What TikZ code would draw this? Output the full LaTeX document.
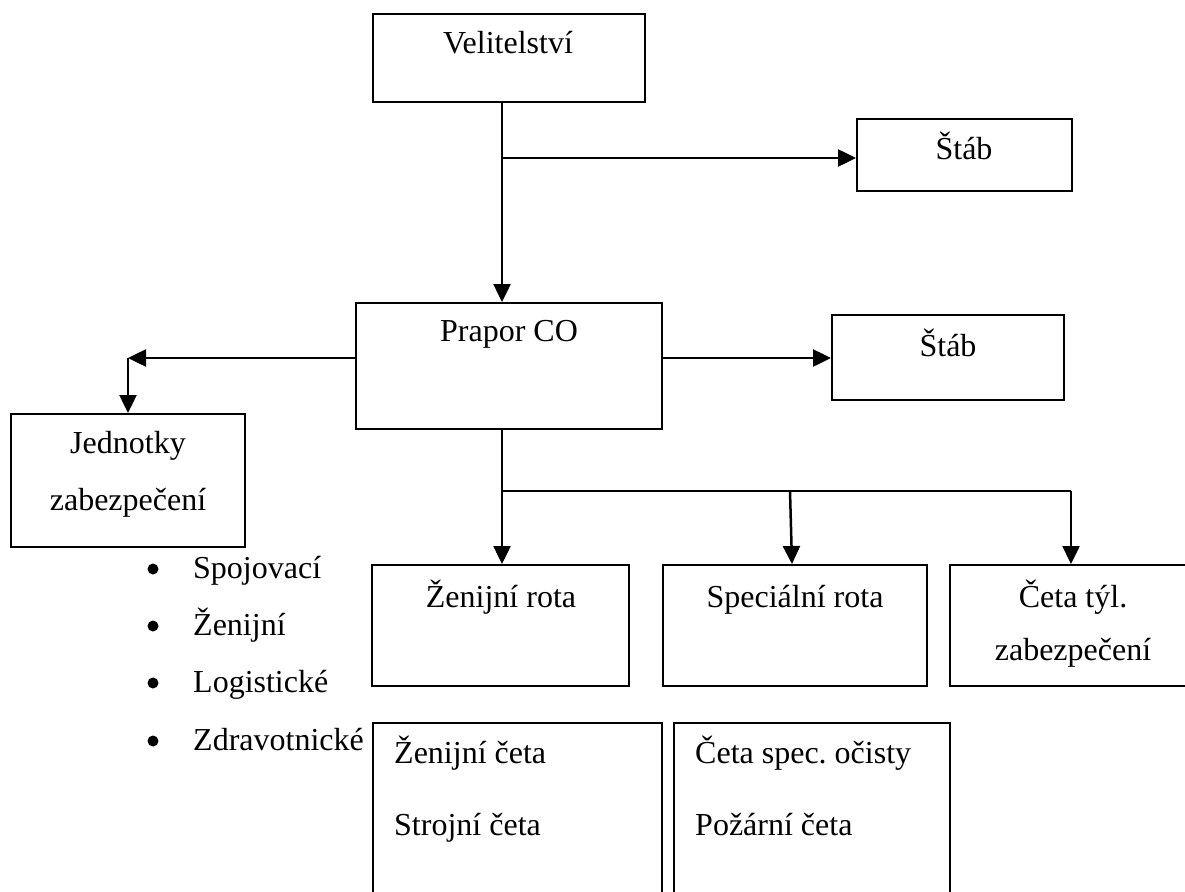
\documentclass[tikz,border=0pt]{standalone}
\usepackage{fontspec}
\setmainfont{Liberation Serif}
\usetikzlibrary{arrows.meta,calc}
\frenchspacing
\begin{document}
\begin{tikzpicture}[x=1pt,y=-1pt,
  box/.style={draw, line width=2pt, inner sep=0pt, minimum width=#1},
  lbl/.style={inner sep=0pt, anchor=base, font=\fontsize{32pt}{36pt}\selectfont},
  lbll/.style={inner sep=0pt, anchor=base west, font=\fontsize{32pt}{36pt}\selectfont},
  arr/.style={line width=2.5pt, -{Triangle[length=18pt,width=17pt]}},
  ln/.style={line width=2.5pt},
  dotb/.style={circle, fill=black, inner sep=0pt, minimum size=11pt}]
\useasboundingbox (0,0) rectangle (1185,891);
\clip (0,0) rectangle (1185,891);
% boxes
\node[box=272pt, minimum height=88pt]  (vel)   at (509,58) {};
\node[box=215pt, minimum height=72pt]  (stab1) at (964.5,155) {};
\node[box=306pt, minimum height=126pt] (pr)    at (509,366) {};
\node[box=232pt, minimum height=85pt]  (stab2) at (948,357.5) {};
\node[box=234pt, minimum height=133pt] (jed)   at (128,480.5) {};
\node[box=257pt, minimum height=121pt] (zr)    at (500.5,625.5) {};
\node[box=264pt, minimum height=121pt] (sr)    at (795,625.5) {};
\node[box=246pt, minimum height=121pt] (ct)    at (1073,625.5) {};
\node[box=289pt, minimum height=190pt] (zc)    at (517.5,818) {};
\node[box=276pt, minimum height=190pt] (cs)    at (812,818) {};
% texts
\node[lbl] (tvel) at (508,53) {Velitelství};
\node[lbl] (ts1) at (964,159) {Štáb};
\node[lbl] (tpr) at (509,341) {Prapor CO};
\node[lbl] (ts2) at (948,356) {Štáb};
\node[lbl] (tj1) at (128,453) {Jednotky};
\node[lbl] (tj2) at (128,510) {zabezpečení};
\node[lbl] (tzr) at (501,607) {Ženijní rota};
\node[lbl] (tsr) at (795,607) {Speciální rota};
\node[lbl] (tct1) at (1073,607) {Četa týl.};
\node[lbl] (tct2) at (1073,660) {zabezpečení};
\node[lbll] (tzc1) at (394,763) {Ženijní četa};
\node[lbll] (tzc2) at (394,835) {Strojní četa};
\node[lbll] (tcs1) at (695,763) {Četa spec.\ očisty};
\node[lbll] (tcs2) at (695,835) {Požární četa};
% bullet list
\node[dotb] (b1) at (153,569) {};
\node[dotb] (b2) at (153,626) {};
\node[dotb] (b3) at (153,683) {};
\node[dotb] (b4) at (153,741) {};
\node[lbll] (l1) at (193,578) {Spojovací};
\node[lbll] (l2) at (193,635) {Ženijní};
\node[lbll] (l3) at (193,692) {Logistické};
\node[lbll] (l4) at (193,750) {Zdravotnické};
% connectors
\coordinate (va) at ($(vel.south)+(-7,0)$);
\draw[arr] (va) -- (va |- pr.north);
\coordinate (vb) at ($(va |- stab1.west)+(0,3)$);
\draw[arr] (vb) -- (vb -| stab1.west);
\coordinate (pw) at ($(pr.west)+(0,-8)$);
\coordinate (jc) at (pw -| jed.north);
\draw[arr] (pw) -- (jc);
\draw[arr] (jc) -- (jed.north);
\coordinate (pe) at ($(pr.east)+(0,-8)$);
\draw[arr] (pe) -- (pe -| stab2.west);
\coordinate (ps) at ($(pr.south)+(-7,0)$);
\draw[arr] (ps) -- (ps |- zr.north);
\coordinate (bj) at ($(ps)+(0,61)$);
\coordinate (bk) at ($(bj -| ct.north)+(-2,0)$);
\draw[ln] (bj) -- (bk);
\coordinate (bs) at ($(bj -| sr.north)+(-5,0)$);
\draw[arr] (bs) -- ($(sr.north)+(-3,0)$);
\draw[arr] (bk) -- (bk |- ct.north);
\end{tikzpicture}
\end{document}
